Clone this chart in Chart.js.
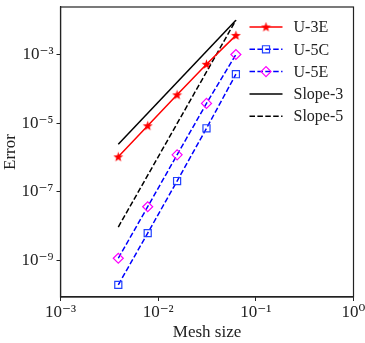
<!DOCTYPE html>
<html>
<head>
<meta charset="utf-8">
<script src="https://cdn.jsdelivr.net/npm/chart.js@4/dist/chart.umd.min.js"></script>
<style>
  html, body { margin: 0; padding: 0; background: #fff; }
  #wrap { width: 365px; height: 343px; }
</style>
</head>
<body>
<div id="wrap"><canvas id="errChart" width="365" height="343"></canvas></div>
<script>
// mesh sizes h = 1/256 ... 1/16
const meshSize = [1/256, 1/128, 1/64, 1/32, 1/16];
const u3e = [1.05e-6, 8.4e-6, 6.7e-5, 5.2e-4, 3.6e-3];
const u5c = [1.97e-10, 6.3e-9, 2.07e-7, 7.1e-6, 2.67e-4];
const u5e = [1.17e-9, 3.7e-8, 1.2e-6, 3.77e-5, 1.0e-3];
// reference slope lines, end points only
const slopeX = [1/256, 1/16];
const slope3 = [2.44e-6, 1.0e-2];
const slope5 = [9.5e-9, 1.0e-2];
const xTicks = [1e-3, 1e-2, 1e-1, 1e0];
const yTicks = [1e-9, 1e-7, 1e-5, 1e-3];

const FONT = '"Liberation Serif", "DejaVu Serif", serif';
const sup = {'-': '\u207B', '0': '\u2070', '1': '\u00B9', '2': '\u00B2', '3': '\u00B3', '4': '\u2074',
             '5': '\u2075', '6': '\u2076', '7': '\u2077', '8': '\u2078', '9': '\u2079'};
function powLabel(v) {
    const e = String(Math.round(Math.log10(v)));
    return '10' + e.split('').map(c => sup[c]).join('');
}
function pts(xs, ys) {
    return xs.map((x, i) => ({x: x, y: ys[i]}));
}

// filled star marker (matplotlib '*')
function makeStar(color) {
    const c = document.createElement('canvas');
    c.width = 11; c.height = 11;
    const g = c.getContext('2d');
    g.fillStyle = color;
    g.beginPath();
    for (let i = 0; i < 10; i++) {
        const r = i % 2 === 0 ? 5.2 : 2.1;
        const a = -Math.PI / 2 + i * Math.PI / 5;
        const px = 5.5 + r * Math.cos(a), py = 5.8 + r * Math.sin(a);
        if (i === 0) g.moveTo(px, py); else g.lineTo(px, py);
    }
    g.closePath();
    g.fill();
    return c;
}
const star = makeStar('#ff0000');
const dash = [5.5, 2.4];

const framePlugin = {
    id: 'frame',
    afterDraw(chart) {
        const a = chart.chartArea, ctx = chart.ctx;
        ctx.save();
        ctx.strokeStyle = '#222';
        ctx.lineWidth = 1.2;
        ctx.strokeRect(a.left, a.top, a.right - a.left, a.bottom - a.top);
        ctx.restore();
    }
};

const legendPlugin = {
    id: 'innerLegend',
    afterDraw(chart) {
        const ctx = chart.ctx, a = chart.chartArea;
        const x0 = a.right - 104, x1 = a.right - 71, tx = a.right - 60;
        ctx.save();
        chart.data.datasets.forEach((ds, i) => {
            const y = a.top + 20 + i * 22.3;
            ctx.setLineDash(ds.borderDash || []);
            ctx.strokeStyle = ds.borderColor;
            ctx.lineWidth = ds.borderWidth;
            ctx.beginPath();
            ctx.moveTo(x0, y);
            ctx.lineTo(x1, y);
            ctx.stroke();
            ctx.setLineDash([]);
            if (ds.pointRadius > 0) {
                ctx.strokeStyle = ds.pointBorderColor;
                ctx.fillStyle = ds.pointBackgroundColor;
                ctx.lineWidth = ds.pointBorderWidth;
                Chart.helpers.drawPoint(ctx, {pointStyle: ds.pointStyle, radius: ds.pointRadius,
                    rotation: 0, borderWidth: ds.pointBorderWidth}, (x0 + x1) / 2, y);
            }
            ctx.fillStyle = '#222';
            ctx.font = '16px ' + FONT;
            ctx.textBaseline = 'middle';
            ctx.textAlign = 'left';
            ctx.fillText(ds.label, tx, y + 1);
        });
        ctx.restore();
    }
};

const ctx = document.getElementById('errChart').getContext('2d');
new Chart(ctx, {
    type: 'scatter',
    data: {
        datasets: [{
            label: 'U-3E',
            data: pts(meshSize, u3e),
            showLine: true,
            borderColor: '#ff0000',
            borderWidth: 1.5,
            pointStyle: star,
            pointRadius: 5,
            pointBorderColor: '#ff0000',
            pointBackgroundColor: '#ff0000',
            pointBorderWidth: 1
        }, {
            label: 'U-5C',
            data: pts(meshSize, u5c),
            showLine: true,
            borderColor: '#0000ff',
            borderWidth: 1.5,
            borderDash: dash,
            pointStyle: 'rect',
            pointRadius: 5,
            pointBorderColor: '#2040ff',
            pointBackgroundColor: 'rgba(0,0,0,0)',
            pointBorderWidth: 1.2
        }, {
            label: 'U-5E',
            data: pts(meshSize, u5e),
            showLine: true,
            borderColor: '#0000ff',
            borderWidth: 1.5,
            borderDash: dash,
            pointStyle: 'rectRot',
            pointRadius: 5,
            pointBorderColor: '#ff00ff',
            pointBackgroundColor: 'rgba(0,0,0,0)',
            pointBorderWidth: 1.2
        }, {
            label: 'Slope-3',
            data: pts(slopeX, slope3),
            showLine: true,
            borderColor: '#000000',
            borderWidth: 1.5,
            pointRadius: 0
        }, {
            label: 'Slope-5',
            data: pts(slopeX, slope5),
            showLine: true,
            borderColor: '#000000',
            borderWidth: 1.5,
            borderDash: dash,
            pointRadius: 0
        }]
    },
    options: {
        responsive: false,
        animation: false,
        layout: { padding: { top: 7, right: 11.5, left: 0, bottom: 0 } },
        plugins: {
            legend: { display: false },
            tooltip: { enabled: false }
        },
        scales: {
            x: {
                type: 'logarithmic',
                min: 1e-3,
                max: 1e0,
                afterBuildTicks(scale) { scale.ticks = xTicks.map(v => ({value: v})); },
                afterFit(scale) {
                    scale.height = 46;
                    scale.paddingLeft = 0;
                    scale.paddingRight = 0;
                },
                ticks: {
                    callback: v => powLabel(v),
                    color: '#222',
                    font: { family: FONT, size: 17 },
                    maxRotation: 0,
                    autoSkip: false,
                    padding: 1
                },
                grid: { drawOnChartArea: false, tickLength: 4, color: '#222', tickWidth: 1 },
                border: { display: true, color: '#222', width: 1.2 },
                title: {
                    display: true,
                    text: 'Mesh size',
                    color: '#222',
                    font: { family: FONT, size: 17 },
                    padding: { top: 0, bottom: 0 }
                }
            },
            y: {
                type: 'logarithmic',
                min: Math.pow(10, -10.06),
                max: Math.pow(10, -1.617),
                afterBuildTicks(scale) { scale.ticks = yTicks.map(v => ({value: v})); },
                afterFit(scale) {
                    scale.width = 60.5;
                    scale.paddingTop = 0;
                    scale.paddingBottom = 0;
                },
                ticks: {
                    callback: v => powLabel(v),
                    color: '#222',
                    font: { family: FONT, size: 17 },
                    autoSkip: false,
                    padding: 3
                },
                grid: { drawOnChartArea: false, tickLength: 4, color: '#222', tickWidth: 1 },
                border: { display: true, color: '#222', width: 1.2 },
                title: {
                    display: true,
                    text: 'Error',
                    color: '#222',
                    font: { family: FONT, size: 17 },
                    padding: { top: 0, bottom: 2 }
                }
            }
        }
    },
    plugins: [framePlugin, legendPlugin]
});
</script>
</body>
</html>
